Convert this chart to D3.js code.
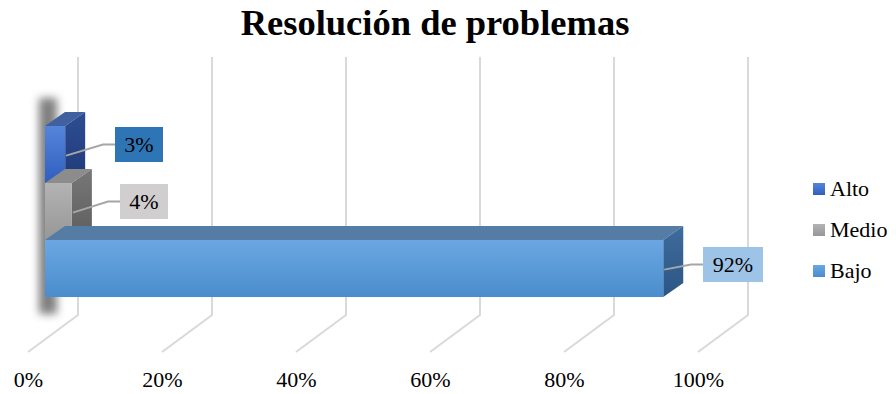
<!DOCTYPE html>
<html><head><meta charset="utf-8">
<script src="https://cdn.jsdelivr.net/npm/d3@7"></script>
<style>body{margin:0;background:#fff}svg{display:block;font-family:"Liberation Serif","Times New Roman",serif}</style>
</head><body><svg id="c" width="896" height="394"></svg>
<script>
const title = "Resolución de problemas";
const series = ["Alto", "Medio", "Bajo"];
const values = [0.03, 0.04, 0.92];
const labels = ["3%", "4%", "92%"];
const ticks = [0, 0.2, 0.4, 0.6, 0.8, 1.0];

const svg = d3.select("#c");
const defs = svg.append("defs");

const colors = {
  Alto:  {f0:"#5585DA", f1:"#2F5EBE", side0:"#2E4D94", side1:"#1F3A78", top:"#40609F", label:"#2E75B6"},
  Medio: {f0:"#B3B3B3", f1:"#979797", side0:"#777777", side1:"#5E5E5E", top:"#8C8C8C", label:"#D0CECE"},
  Bajo:  {f0:"#6BA8E2", f1:"#4A8CCD", side0:"#3E6C9C", side1:"#2B5585", top:"#557CA5", label:"#9DC3E6"}
};
series.forEach(s => {
  const c = colors[s];
  const g = defs.append("linearGradient").attr("id","f"+s).attr("x1",0).attr("y1",0).attr("x2",0).attr("y2",1);
  g.append("stop").attr("offset","0%").attr("stop-color",c.f0);
  g.append("stop").attr("offset","100%").attr("stop-color",c.f1);
  const g2 = defs.append("linearGradient").attr("id","s"+s).attr("x1",0).attr("y1",0).attr("x2",0).attr("y2",1);
  g2.append("stop").attr("offset","0%").attr("stop-color",c.side0);
  g2.append("stop").attr("offset","100%").attr("stop-color",c.side1);
});
const blur = defs.append("filter").attr("id","blur").attr("x","-100%").attr("y","-20%").attr("width","300%").attr("height","140%");
blur.append("feGaussianBlur").attr("stdDeviation",4.5);

const xBack = d3.scaleLinear().domain([0,1]).range([78,748]);
const xFront = d3.scaleLinear().domain([0,1]).range([28,698]);
const xBar = d3.scaleLinear().domain([0,1]).range([45,717]);
const y = d3.scaleBand().domain(series).range([126,297]);
const dx = 20, dy = -14;
const wallTop = 57, wallBottom = 315, floorFront = 352;

// title
svg.append("text").attr("x",435).attr("y",35).attr("text-anchor","middle")
  .attr("font-size",36.5).attr("font-weight","bold").attr("fill","#000").text(title);

// gridlines
const grid = svg.append("g").attr("stroke","#D9D9D9").attr("stroke-width",2).attr("fill","none");
ticks.forEach(t => {
  grid.append("path").attr("d",
    `M${xBack(t)},${wallTop}L${xBack(t)},${wallBottom}L${xFront(t)},${floorFront}`);
});

// shadow
svg.append("rect").attr("x",39).attr("y",98).attr("width",18).attr("height",216)
  .attr("fill","#555").attr("opacity",0.75).attr("filter","url(#blur)");

// bars
const bars = svg.append("g");
series.forEach((s,i) => {
  const c = colors[s];
  const x0 = xBar(0), x1 = xBar(values[i]);
  const y0 = y(s), y1 = y(s) + y.bandwidth();
  const g = bars.append("g");
  g.append("path").attr("d",`M${x0},${y0}L${x0+dx},${y0+dy}L${x1+dx},${y0+dy}L${x1},${y0}Z`).attr("fill",c.top);
  g.append("path").attr("d",`M${x1},${y0}L${x1+dx},${y0+dy}L${x1+dx},${y1+dy}L${x1},${y1}Z`).attr("fill",`url(#s${s})`);
  g.append("rect").attr("x",x0).attr("y",y0).attr("width",x1-x0).attr("height",y1-y0)
    .attr("fill",`url(#f${s})`);
});

// data labels
const lab = svg.append("g");
const labelBoxes = [
  {x:115, y:127, w:48, h:35},
  {x:120, y:184, w:48, h:35},
  {x:703, y:247, w:60, h:35}
];
series.forEach((s,i) => {
  const c = colors[s];
  const b = labelBoxes[i];
  const sx = xBar(values[i]) + 1;
  const sy = y(s) + y.bandwidth()*0.52;
  const my = b.y + b.h/2;
  lab.append("path").attr("d",`M${sx},${sy}L${b.x-12},${my}L${b.x},${my}`)
    .attr("fill","none").attr("stroke","#A6A6A6").attr("stroke-width",2);
  lab.append("rect").attr("x",b.x).attr("y",b.y).attr("width",b.w).attr("height",b.h).attr("fill",c.label);
  lab.append("text").attr("x",b.x+b.w/2).attr("y",b.y+b.h/2+7.5).attr("text-anchor","middle")
    .attr("font-size",22).attr("fill","#000").text(labels[i]);
});

// x axis
const axis = d3.axisBottom(xFront).tickValues(ticks).tickFormat(d3.format(".0%")).tickSize(0).tickPadding(0);
const ax = svg.append("g").attr("transform","translate(0,371)").call(axis);
ax.select(".domain").remove();
ax.selectAll("text").attr("font-size",22).attr("fill","#000").attr("font-family","Liberation Serif, Times New Roman, serif");

// legend
const leg = svg.append("g");
const legY = [189, 230, 271];
series.forEach((s,i) => {
  const c = colors[s];
  leg.append("rect").attr("x",813).attr("y",legY[i]-6).attr("width",12).attr("height",12).attr("fill",`url(#f${s})`);
  leg.append("text").attr("x",830).attr("y",legY[i]+7).attr("font-size",22).attr("fill","#000").text(s);
});
</script></body></html>
